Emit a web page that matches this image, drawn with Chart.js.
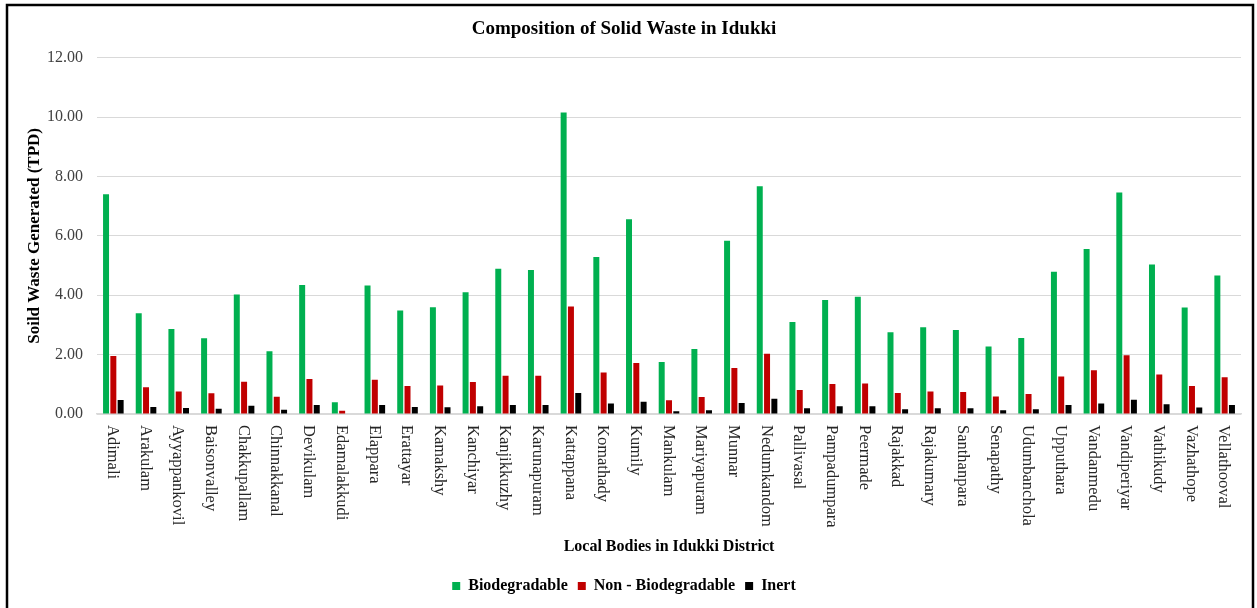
<!DOCTYPE html>
<html>
<head>
<meta charset="utf-8">
<script src="https://cdn.jsdelivr.net/npm/chart.js@4/dist/chart.umd.min.js"></script>
<style>
	html, body { margin: 0; padding: 0; background: #fff; }
	#wrap { width: 1257px; height: 608px; }
</style>
</head>
<body>
<div id="wrap"><canvas id="waste_chart" width="1257" height="608"></canvas></div>
<script>
// local bodies (x axis)
const bodies = ['Adimali', 'Arakulam', 'Ayyappankovil', 'Baisonvalley', 'Chakkupallam', 'Chinnakkanal',
	'Devikulam', 'Edamalakkudi', 'Elappara', 'Erattayar', 'Kamakshy', 'Kanchiyar', 'Kanjikkuzhy',
	'Karunapuram', 'Kattappana', 'Komathady', 'Kumily', 'Mankulam', 'Mariyapuram', 'Munnar',
	'Nedumkandom', 'Pallivasal', 'Pampadumpara', 'Peermade', 'Rajakkad', 'Rajakumary', 'Santhanpara',
	'Senapathy', 'Udumbanchola', 'Upputhara', 'Vandanmedu', 'Vandiperiyar', 'Vathikudy', 'Vazhathope',
	'Vellathooval']

// TPD values
const biodegradable = [7.40, 3.39, 2.86, 2.55, 4.03, 2.11, 4.35, 0.40, 4.33, 3.49, 3.60, 4.10, 4.89,
	4.85, 10.16, 5.29, 6.56, 1.75, 2.19, 5.84, 7.67, 3.10, 3.84, 3.95, 2.75, 2.92, 2.83,
	2.27, 2.56, 4.79, 5.56, 7.46, 5.04, 3.59, 4.67]
const nonBiodegradable = [1.95, 0.90, 0.76, 0.70, 1.09, 0.58, 1.18, 0.11, 1.15, 0.94, 0.96, 1.08, 1.29,
	1.29, 3.62, 1.40, 1.72, 0.46, 0.57, 1.55, 2.03, 0.81, 1.01, 1.03, 0.71, 0.76, 0.74,
	0.59, 0.67, 1.26, 1.47, 1.98, 1.33, 0.94, 1.24]
const inert = [0.47, 0.24, 0.20, 0.18, 0.28, 0.14, 0.30, 0, 0.30, 0.24, 0.23, 0.26, 0.30,
	0.30, 0.71, 0.35, 0.41, 0.09, 0.13, 0.37, 0.51, 0.19, 0.26, 0.26, 0.16, 0.19, 0.19,
	0.13, 0.16, 0.30, 0.35, 0.48, 0.33, 0.22, 0.30]

const yTicks = [0, 2, 4, 6, 8, 10, 12]

const serif = '"Liberation Serif", "Times New Roman", serif'

// white background + black frame
const framePlugin = {
	id: 'frame',
	beforeDraw(chart) {
		const c = chart.ctx
		c.save()
		c.fillStyle = '#fff'
		c.fillRect(0, 0, chart.width, chart.height)
		c.restore()
	},
	afterDraw(chart) {
		const c = chart.ctx
		c.save()
		c.strokeStyle = '#000'
		c.lineWidth = 2.5
		c.strokeRect(7, 5, 1246, 700)
		c.restore()
	}
}

// x labels read top to bottom
const xLabelPlugin = {
	id: 'xLabels',
	afterDraw(chart) {
		const c = chart.ctx
		const xs = chart.scales.x
		const top = chart.chartArea.bottom + 11
		c.save()
		c.font = '16.5px ' + serif
		c.fillStyle = '#262626'
		c.textAlign = 'left'
		c.textBaseline = 'middle'
		bodies.forEach((name, i) => {
			c.save()
			c.translate(xs.getPixelForValue(i) - 1, top)
			c.rotate(Math.PI / 2)
			c.fillText(name, 0, 0)
			c.restore()
		})
		c.restore()
	}
}

const ctx = document.getElementById('waste_chart').getContext('2d')
const waste_chart = new Chart(ctx, {
	type: 'bar',
	data: {
		labels: bodies,
		datasets: [{
			label: 'Biodegradable',
			data: biodegradable,
			backgroundColor: '#00B050'
		}, {
			label: 'Non - Biodegradable',
			data: nonBiodegradable,
			backgroundColor: '#C00000'
		}, {
			label: 'Inert',
			data: inert,
			backgroundColor: '#000000'
		}]
	},
	options: {
		responsive: false,
		animation: false,
		categoryPercentage: 0.67,
		barPercentage: 0.82,
		layout: {
			padding: { left: 7, right: 16, top: 8, bottom: 4 }
		},
		plugins: {
			title: {
				display: true,
				text: 'Composition of Solid Waste in Idukki',
				color: '#000',
				font: { family: serif, size: 19, weight: 'bold' },
				padding: { top: 10, bottom: 17 }
			},
			legend: {
				position: 'bottom',
				labels: {
					boxWidth: 8,
					boxHeight: 8,
					padding: 10,
					color: '#000',
					font: { family: serif, size: 16, weight: 'bold' }
				}
			},
			tooltip: { enabled: false }
		},
		scales: {
			x: {
				grid: { display: false },
				border: { color: '#D9D9D9', width: 1.5 },
				ticks: { display: false },
				title: {
					display: true,
					text: 'Local Bodies in Idukki District',
					color: '#000',
					font: { family: serif, size: 16, weight: 'bold' },
					padding: { top: 0, bottom: 12 }
				},
				afterFit(scale) { scale.height = 154 }
			},
			y: {
				min: 0,
				max: 12,
				afterBuildTicks(scale) { scale.ticks = yTicks.map(v => ({ value: v })) },
				grid: { color: '#D9D9D9', drawTicks: false },
				border: { display: false },
				ticks: {
					padding: 14,
					color: '#404040',
					font: { family: serif, size: 16 },
					callback: v => v.toFixed(2)
				},
				title: {
					display: true,
					text: 'Soild Waste Generated (TPD)',
					color: '#000',
					font: { family: serif, size: 17, weight: 'bold' },
					padding: { top: 17, bottom: 0 }
				},
				afterFit(scale) { scale.width = 90 }
			}
		}
	},
	plugins: [framePlugin, xLabelPlugin]
})
</script>
</body>
</html>
